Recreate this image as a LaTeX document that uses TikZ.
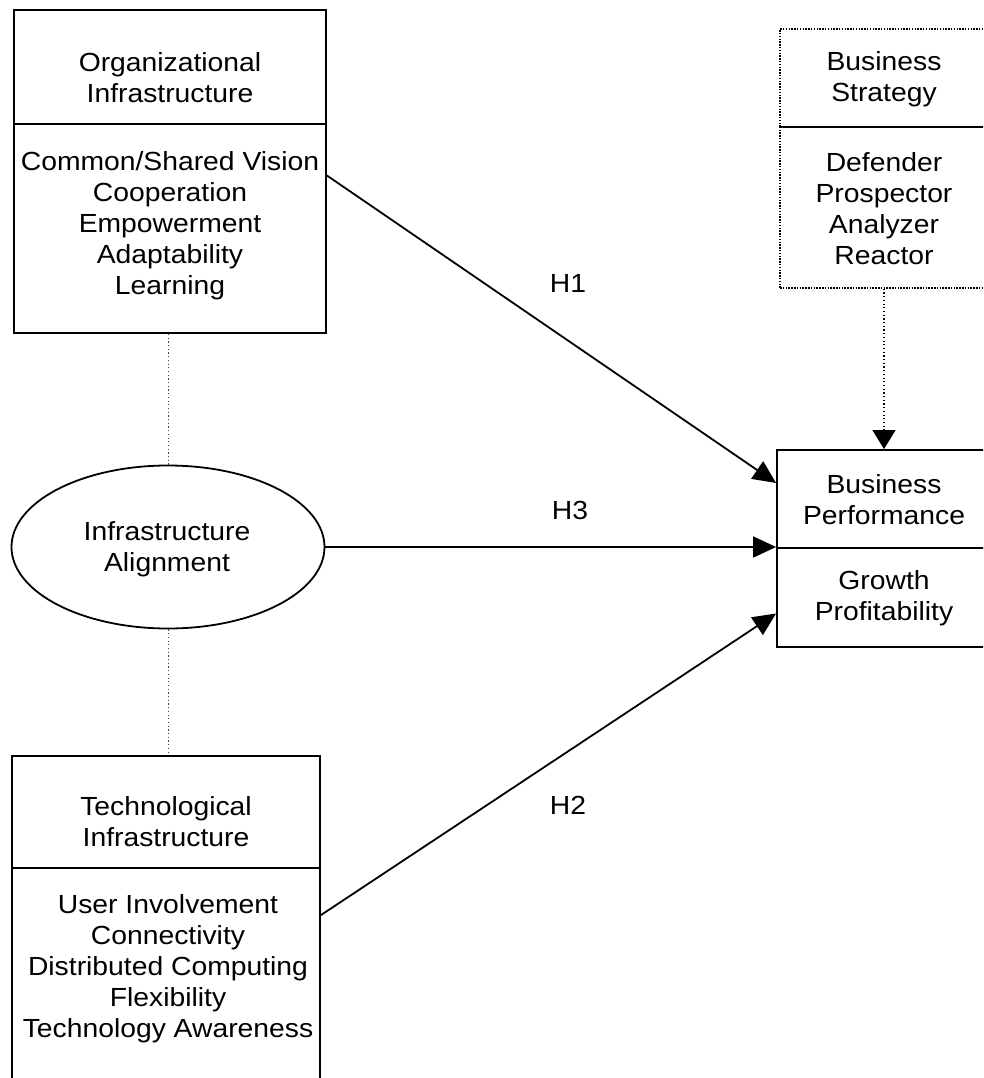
\documentclass[tikz,border=0pt]{standalone}
\usepackage{fontspec}
\setmainfont{Liberation Sans}[FakeStretch=1.08]
\usetikzlibrary{arrows.meta,shapes.geometric}

\begin{document}
\begin{tikzpicture}[x=1pt,y=-1pt,
  every node/.style={font=\fontsize{26.2}{31}\selectfont},
  part/.style={draw, line width=1.8pt, inner sep=0pt},
  dotpart/.style={draw, line width=1.4pt, dash pattern=on 1.5pt off 1.3pt, inner sep=0pt},
  txt/.style={align=center, inner sep=0pt},
  link/.style={line width=1.8pt, -{Triangle[length=23pt,width=21pt]}},
  faint/.style={line width=1pt, dash pattern=on 1.2pt off 2.5pt, draw=black!75},
  faintarrow/.style={line width=1.1pt, dash pattern=on 1.2pt off 2.5pt, -{Triangle[length=19pt,width=23pt]}}]
\clip (0,0) rectangle (983,1078);
\fill[white] (0,0) rectangle (983,1078);

% Organizational infrastructure
\node[part, minimum width=312pt, minimum height=114pt] (orgT) at (170,67) {};
\node[part, minimum width=312pt, minimum height=209pt] (orgB) at (170,228.5) {};
\node[txt] (orgTt) at (170,77.5) {Organizational\\Infrastructure};
\node[txt] (orgBt) at (170,226) {Common/Shared Vision\\Cooperation\\Empowerment\\Adaptability\\Learning};

% Business strategy
\node[dotpart, minimum width=208pt, minimum height=98pt] (bsT) at (884,78) {};
\node[dotpart, minimum width=208pt, minimum height=161pt] (bsB) at (884,207.5) {};
\node[txt] (bsTt) at (884,79) {Business\\Strategy};
\node[txt] (bsBt) at (884,209) {Defender\\Prospector\\Analyzer\\Reactor};

% Business performance
\node[part, minimum width=214pt, minimum height=98pt] (bpT) at (884,499) {};
\node[part, minimum width=214pt, minimum height=99pt] (bpB) at (884,597.5) {};
\node[txt] (bpTt) at (884,500) {Business\\Performance};
\node[txt] (bpBt) at (884,598) {Growth\\Profitability};

% Infrastructure alignment
\node[ellipse, draw, line width=1.8pt, minimum width=313pt, minimum height=163pt, inner sep=0pt] (ell) at (168,547) {};
\node[txt] (ellt) at (167,549) {Infrastructure\\Alignment};

% Technological infrastructure
\node[part, minimum width=308pt, minimum height=112pt] (tT) at (166,812) {};
\node[part, minimum width=308pt, minimum height=232pt] (tB) at (166,984) {};
\node[txt] (tTt) at (166,822) {Technological\\Infrastructure};
\node[txt] (tBt) at (168,969) {User Involvement\\Connectivity\\Distributed Computing\\Flexibility\\Technology Awareness};

% Hypothesis labels
\node[txt] (h1) at (568,283) {H1};
\node[txt] (h3) at (570,510) {H3};
\node[txt] (h2) at (568,805) {H2};

% Links
\draw[link] ([yshift=53pt]orgB.east) -- ([yshift=16pt]bpT.west);
\draw[link] (ell.east) -- (ell.east -| bpT.west);
\draw[link] ([yshift=-48pt]tB.north east) -- ([yshift=-16pt]bpB.west);
\draw[faintarrow] (bsB.south) -- (bpT.north);
\draw[faint] (ell.north) -- (ell.north |- orgB.south);
\draw[faint] (ell.south) -- (ell.south |- tT.north);
\end{tikzpicture}
\end{document}
